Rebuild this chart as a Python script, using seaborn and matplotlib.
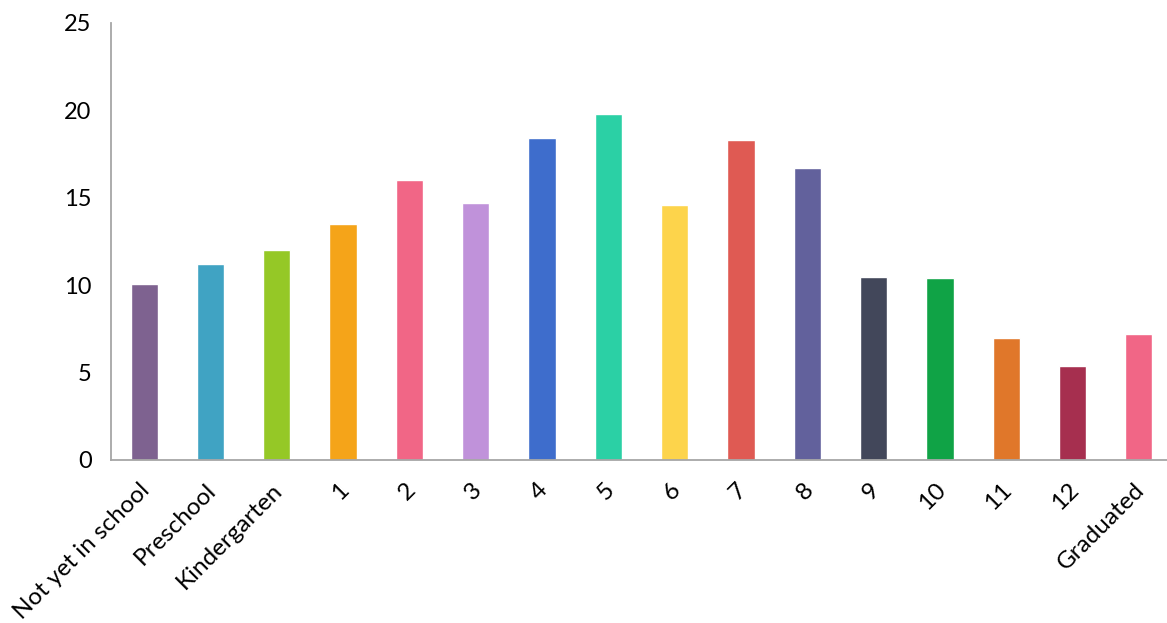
import matplotlib
matplotlib.use("Agg")
import matplotlib.pyplot as plt
import matplotlib.transforms as mtransforms
import seaborn as sns
import pandas as pd

categories = ["Not yet in school", "Preschool", "Kindergarten", "1", "2", "3", "4", "5",
              "6", "7", "8", "9", "10", "11", "12", "Graduated"]
values = [10.05, 11.2, 12.0, 13.5, 16.0, 14.7, 18.4, 19.8,
          14.6, 18.3, 16.7, 10.45, 10.4, 7.0, 5.4, 7.2]
colors = ["#7E6290", "#40A3C3", "#95C826", "#F5A419", "#F16686", "#C092DA", "#3E6DCC", "#2BD0A5",
          "#FDD44B", "#DF5A53", "#62619C", "#42475A", "#10A346", "#E0772A", "#A62F4F", "#F16686"]
yticks = [0, 5, 10, 15, 20, 25]

sns.set_style("white")
plt.rcParams['font.family'] = ['Lato', 'DejaVu Sans']

df = pd.DataFrame({"cat": categories, "val": values})

fig = plt.figure(figsize=(11.67, 6.23), dpi=100)
ax = fig.add_axes([111/1167, 1 - 460/623, (1172 - 111)/1167, (460 - 22.6)/623])

sns.barplot(data=df, x="cat", y="val", hue="cat", palette=colors, legend=False,
            width=0.41, saturation=1, ax=ax)

ax.set_xlim(-0.5, len(categories) - 0.5)
ax.set_ylim(0, 25)
ax.set_yticks(yticks)
ax.set_xlabel("")
ax.set_ylabel("")

for s in ["top", "right"]:
    ax.spines[s].set_visible(False)
for s in ["left", "bottom"]:
    ax.spines[s].set_color("#A6A6A6")
    ax.spines[s].set_linewidth(1.3)

ax.set_xticks([i - 0.5 for i in range(len(categories) + 1)], minor=True)
ax.tick_params(axis="x", which="minor", length=8, width=1.3, color="#A6A6A6", direction="out")
ax.tick_params(axis="x", which="major", length=0, pad=14, labelcolor="black")
ax.tick_params(axis="y", length=6, width=1.3, color="#A6A6A6", direction="out", labelsize=17, pad=8,
               labelcolor="black")
ax.set_xticks(range(len(categories)))
ax.set_xticklabels(categories, rotation=45, ha="right", rotation_mode="anchor", fontsize=17.5,
                   color="black")
offset = mtransforms.ScaledTranslation(-5/100, 0, fig.dpi_scale_trans)
for lbl in ax.get_xticklabels():
    lbl.set_transform(lbl.get_transform() + offset)

fig.savefig("out.png", dpi=100)
